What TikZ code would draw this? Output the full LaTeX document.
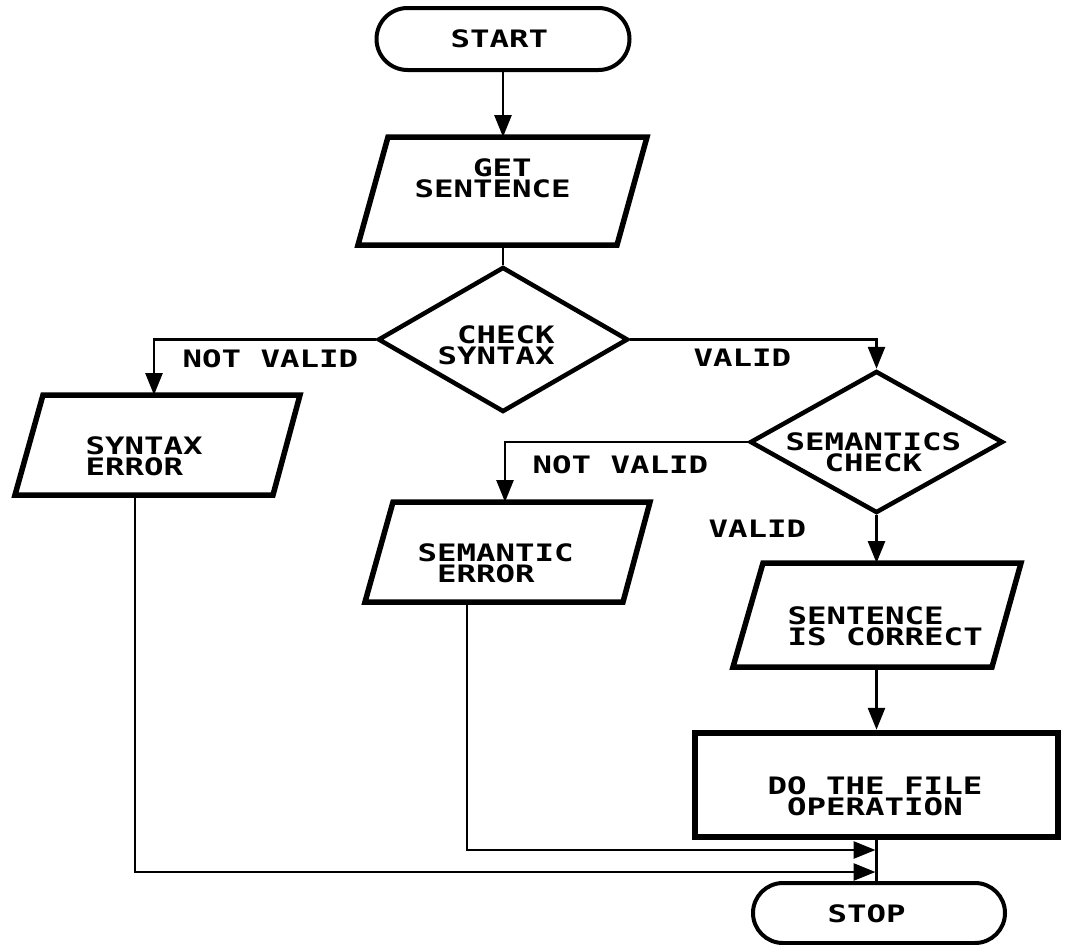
\documentclass[tikz,border=0pt]{standalone}
\usepackage{fontspec}
\newfontfamily\flowfont{DejaVu Sans Mono}[FakeStretch=1.35]
\usetikzlibrary{arrows.meta,shapes.geometric,shapes.misc}

\begin{document}
\begin{tikzpicture}[x=1pt,y=-1pt,
  lbl/.style={font=\flowfont\bfseries\fontsize{24}{21}\selectfont,
              inner sep=0pt, align=left, anchor=west, text=black},
  term/.style={draw, rounded rectangle, line width=4pt, inner sep=0pt},
  deci/.style={draw, diamond, line width=4.5pt, inner sep=0pt},
  procbox/.style={draw, rectangle, line width=6.5pt, inner sep=0pt},
  iobox/.style={draw, line width=5.5pt, line join=miter},
  flow/.style={line width=2.8pt, -{Triangle[length=22pt,width=17pt]}},
  link/.style={line width=2.8pt},
]
\useasboundingbox (0,0) rectangle (1066,945);

% terminal: start
\node[term, minimum width=253pt, minimum height=62pt] (start) at (503,39) {};
\node[lbl] (tStart) at (450.5,38.5) {START};

% input: get sentence
\draw[iobox] (388,137) -- (647,137) -- (617,245) -- (358,245) -- cycle;
\coordinate (getTop) at (503,137);
\coordinate (getBot) at (503,245);
\node[lbl] (tGet) at (414.5,178.5) {\phantom{SEN}GET\\SENTENCE};

% decision: syntax
\node[deci, minimum width=250pt, minimum height=145pt] (syn) at (503,339.5) {};
\node[lbl] (tSyn) at (437.5,345) {\phantom{S}CHECK\\SYNTAX};
\node[lbl] (nv1) at (182.5,359) {NOT VALID};
\node[lbl] (v1) at (693.5,358) {VALID};

% output: syntax error
\draw[iobox] (43,395) -- (300,395) -- (273,495) -- (15,495) -- cycle;
\coordinate (synErrTop) at (154,395);
\coordinate (synErrBot) at (135,495);
\node[lbl] (tSynErr) at (85.5,456) {SYNTAX\\ERROR};

% decision: semantics
\node[deci, minimum width=253pt, minimum height=142pt] (sem) at (876.5,442) {};
\node[lbl] (tSem) at (785.5,452) {SEMANTICS\\\phantom{SE}CHECK};
\node[lbl] (nv2) at (532.5,465) {NOT VALID};
\node[lbl] (v2) at (708.5,528.5) {VALID};

% output: semantic error
\draw[iobox] (393,502) -- (650,502) -- (623,602) -- (365,602) -- cycle;
\coordinate (semErrTop) at (505,502);
\coordinate (semErrBot) at (467,602);
\node[lbl] (tSemErr) at (417.5,563.5) {SEMANTIC\\\phantom{S}ERROR};

% output: sentence is correct
\draw[iobox] (763,563) -- (1021,563) -- (992,667) -- (733,667) -- cycle;
\coordinate (okTop) at (876.5,563);
\coordinate (okBot) at (876.5,667);
\node[lbl] (tOk) at (787.5,626) {SENTENCE\\IS CORRECT};

% process: file operation
\node[procbox, minimum width=363pt, minimum height=104pt] (op) at (876.5,785) {};
\node[lbl] (tOp) at (767.5,796) {DO THE FILE\\\phantom{D}OPERATION};

% terminal: stop
\node[term, minimum width=252pt, minimum height=60pt] (stop) at (879,913) {};
\node[lbl] (tStop) at (827.5,913.5) {STOP};

% merge points on the final link
\coordinate (j1) at (875.5,850);
\coordinate (j2) at (875.5,872);

% connectors
\draw[flow] (start.south) -- (getTop);
\draw[link] (getBot) -- (syn.north);
\draw[flow] (syn.west) -| (synErrTop);
\draw[flow] (syn.east) -| (sem.north);
\draw[flow] (sem.west) -| (semErrTop);
\draw[flow] (sem.south) -- (okTop);
\draw[flow] (okBot) -- (okBot |- op.north);
\draw[link] (op.south) -- (op.south |- stop.north);
\draw[flow] (semErrBot) |- (j1);
\draw[flow] (synErrBot) |- (j2);
\end{tikzpicture}
\end{document}
